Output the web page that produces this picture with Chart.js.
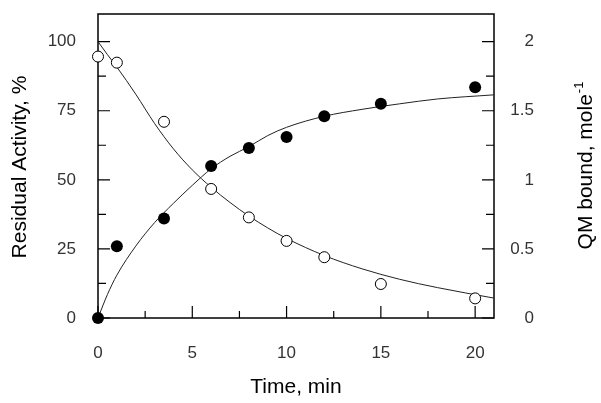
<!DOCTYPE html>
<html>
<head>
<meta charset="utf-8">
<script src="https://cdn.jsdelivr.net/npm/chart.js@4.4.1/dist/chart.umd.min.js"></script>
<style>
  html, body { margin: 0; padding: 0; background: #fff; }
  canvas { display: block; }
</style>
</head>
<body>
<canvas id="chart" width="601" height="403"></canvas>
<script>
// measured points
const pointTimes = [0, 1, 3.5, 6, 8, 10, 12, 15, 20];
const activity = [94.6, 92.4, 71, 46.7, 36.4, 27.9, 22, 12.3, 7.1];
const qmBound = [0, 0.52, 0.72, 1.1, 1.23, 1.31, 1.46, 1.55, 1.67];

// fitted curves
const curveTimes = [0, 0.5, 1, 2, 3, 4, 5, 6, 7, 8, 9, 10, 12, 14, 16, 18, 21];
const activityCurve = [100, 95.3, 90.8, 81, 70.4, 61.2, 53.6, 47.3, 41.8, 36.9, 32.6, 28.8, 22.6, 17.8, 14, 11, 7.2];
const qmCurve = [0, 0.17, 0.31, 0.52, 0.69, 0.83, 0.96, 1.08, 1.17, 1.24, 1.32, 1.38, 1.46, 1.51, 1.55, 1.585, 1.615];

// axis ticks
const xLabels = [0, 5, 10, 15, 20];
const xMinor = [2.5, 7.5, 12.5, 17.5];
const leftLabels = [0, 25, 50, 75, 100];
const leftMinor = [12.5, 37.5, 62.5, 87.5];
const rightLabels = [0, 0.5, 1, 1.5, 2];
const rightMinor = [0.25, 0.75, 1.25, 1.75];

const FONT = 'Arial, "Liberation Sans", sans-serif';

const frameAndTicks = {
    id: 'frameAndTicks',
    beforeDatasetsDraw(chart) {
        const { ctx, chartArea: a, scales } = chart;
        ctx.save();
        ctx.strokeStyle = '#000';
        ctx.lineWidth = 1.5;
        ctx.strokeRect(a.left, a.top, a.right - a.left, a.bottom - a.top);

        ctx.lineWidth = 1.2;
        ctx.beginPath();
        const xTick = (v, len) => {
            const px = scales.x.getPixelForValue(v);
            ctx.moveTo(px, a.bottom); ctx.lineTo(px, a.bottom - len);
        };
        xLabels.forEach(v => xTick(v, 12));
        xMinor.forEach(v => xTick(v, 7));
        const lTick = (v, len) => {
            const py = scales.y.getPixelForValue(v);
            ctx.moveTo(a.left, py); ctx.lineTo(a.left + len, py);
        };
        leftLabels.forEach(v => lTick(v, 12));
        leftMinor.forEach(v => lTick(v, 8));
        const rTick = (v, len) => {
            const py = scales.y2.getPixelForValue(v);
            ctx.moveTo(a.right, py); ctx.lineTo(a.right - len, py);
        };
        rightLabels.forEach(v => rTick(v, 12));
        rightMinor.forEach(v => rTick(v, 8));
        ctx.stroke();
        ctx.restore();
    },
    afterDraw(chart) {
        const { ctx, chartArea: a } = chart;
        const midY = (a.top + a.bottom) / 2;
        ctx.save();
        ctx.fillStyle = '#000';
        ctx.font = '21px ' + FONT;
        ctx.textAlign = 'center';
        ctx.textBaseline = 'alphabetic';
        ctx.fillText('Time, min', (a.left + a.right) / 2, 393);

        ctx.save();
        ctx.translate(26, midY + 1);
        ctx.rotate(-Math.PI / 2);
        ctx.fillText('Residual Activity, %', 0, 0);
        ctx.restore();

        // right title with superscript
        ctx.save();
        ctx.translate(592, midY);
        ctx.rotate(-Math.PI / 2);
        ctx.textAlign = 'left';
        const main = 'QM bound, mole';
        const sup = '-1';
        ctx.font = '21px ' + FONT;
        const w1 = ctx.measureText(main).width;
        ctx.font = '13px ' + FONT;
        const w2 = ctx.measureText(sup).width;
        const start = -(w1 + w2) / 2;
        ctx.font = '21px ' + FONT;
        ctx.fillText(main, start, 0);
        ctx.font = '13px ' + FONT;
        ctx.fillText(sup, start + w1 + 1, -9);
        ctx.restore();

        ctx.restore();
    }
};

const noPad = s => {
    s.paddingTop = 0; s.paddingBottom = 0;
    s.paddingLeft = 0; s.paddingRight = 0;
};

new Chart(document.getElementById('chart'), {
    type: 'scatter',
    data: {
        datasets: [
            {
                label: 'Residual activity',
                data: pointTimes.map((t, i) => ({ x: t, y: activity[i] })),
                yAxisID: 'y',
                showLine: false,
                pointRadius: 5.5,
                pointBackgroundColor: '#fff',
                pointBorderColor: '#000',
                pointBorderWidth: 1,
                clip: false
            },
            {
                label: 'QM bound',
                data: pointTimes.map((t, i) => ({ x: t, y: qmBound[i] })),
                yAxisID: 'y2',
                showLine: false,
                pointRadius: 6,
                pointBackgroundColor: '#000',
                pointBorderColor: '#000',
                pointBorderWidth: 0,
                clip: false
            },
            {
                label: 'Activity fit',
                data: curveTimes.map((t, i) => ({ x: t, y: activityCurve[i] })),
                yAxisID: 'y',
                showLine: true,
                pointRadius: 0,
                borderColor: '#222',
                borderWidth: 1,
                cubicInterpolationMode: 'monotone'
            },
            {
                label: 'QM fit',
                data: curveTimes.map((t, i) => ({ x: t, y: qmCurve[i] })),
                yAxisID: 'y2',
                showLine: true,
                pointRadius: 0,
                borderColor: '#222',
                borderWidth: 1,
                cubicInterpolationMode: 'monotone'
            }
        ]
    },
    options: {
        responsive: false,
        animation: false,
        events: [],
        layout: { padding: { top: 14, right: 67, bottom: 0, left: 0 } },
        plugins: { legend: { display: false }, tooltip: { enabled: false } },
        scales: {
            x: {
                type: 'linear',
                min: 0, max: 21,
                grid: { display: false, drawTicks: false },
                border: { display: false },
                afterBuildTicks: s => { s.ticks = xLabels.map(v => ({ value: v })); },
                afterFit: s => { s.height = 85; noPad(s); },
                ticks: { color: '#333', font: { family: FONT, size: 17 }, padding: 25, maxRotation: 0 }
            },
            y: {
                position: 'left',
                min: 0, max: 110,
                grid: { display: false, drawTicks: false },
                border: { display: false },
                afterBuildTicks: s => { s.ticks = leftLabels.map(v => ({ value: v })); },
                afterFit: s => { s.width = 98; noPad(s); },
                ticks: { color: '#333', font: { family: FONT, size: 17 }, padding: 22 }
            },
            y2: {
                position: 'right',
                min: 0, max: 2.2,
                grid: { display: false, drawTicks: false },
                border: { display: false },
                afterBuildTicks: s => { s.ticks = rightLabels.map(v => ({ value: v })); },
                afterFit: s => { s.width = 40; noPad(s); },
                ticks: {
                    color: '#333', font: { family: FONT, size: 17 }, crossAlign: 'far',
                    callback: v => String(v)
                }
            }
        }
    },
    plugins: [frameAndTicks]
});
</script>
</body>
</html>
